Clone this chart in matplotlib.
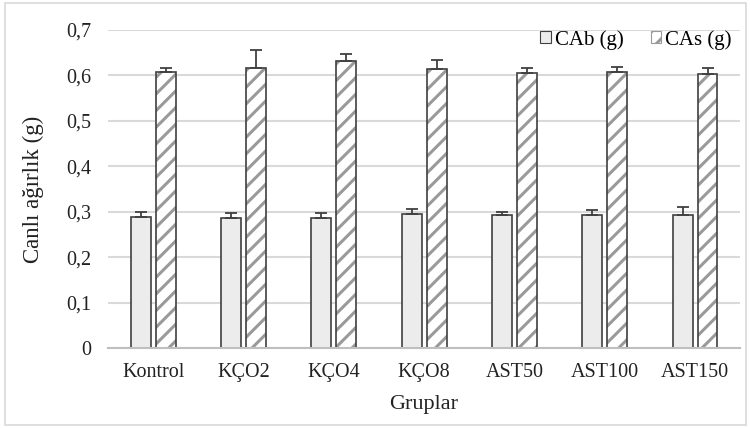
import matplotlib
matplotlib.use("Agg")
import matplotlib.pyplot as plt
import numpy as np
from matplotlib.patches import Patch, Rectangle

groups = ["Kontrol", "KÇO2", "KÇO4", "KÇO8", "AST50", "AST100", "AST150"]
cab = [0.289, 0.287, 0.287, 0.294, 0.292, 0.292, 0.293]
cab_err = [0.010, 0.011, 0.010, 0.012, 0.007, 0.012, 0.018]
cas = [0.608, 0.617, 0.631, 0.613, 0.606, 0.608, 0.604]
cas_err = [0.008, 0.039, 0.017, 0.020, 0.011, 0.011, 0.012]
yticks = [0, 0.1, 0.2, 0.3, 0.4, 0.5, 0.6, 0.7]
ytick_labels = ["0", "0,1", "0,2", "0,3", "0,4", "0,5", "0,6", "0,7"]

plt.rcParams["font.family"] = ["Liberation Serif", "DejaVu Serif"]
plt.rcParams["hatch.linewidth"] = 2.2
plt.rcParams["hatch.color"] = "#9a9a9a"

fig = plt.figure(figsize=(7.5, 4.28), dpi=100)
ax = fig.add_axes([0.144, 0.187, 0.843, 0.743])
fig.patches.append(Rectangle((0.006, 0.008), 0.988, 0.984, transform=fig.transFigure,
                             fill=False, edgecolor="#d9d9d9", linewidth=1.2))

x = np.arange(len(groups))
width = 0.22
offset = 0.138
edge = "#404040"
err_kw = dict(ecolor="#404040", elinewidth=1.3, capsize=4, capthick=1.3)

ax.bar(x - offset, cab, width, color="#ececec", edgecolor=edge, linewidth=1.2, zorder=3,
       yerr=[np.zeros(len(cab)), cab_err], error_kw=err_kw)
ax.bar(x + offset, cas, width, color="white", edgecolor="#9a9a9a", linewidth=0, hatch="//", zorder=3)
ax.bar(x + offset, cas, width, fill=False, edgecolor=edge, linewidth=1.2, zorder=4,
       yerr=[np.zeros(len(cas)), cas_err], error_kw=err_kw)

ax.set_xlim(-0.5, len(groups) - 0.5)
ax.set_ylim(0, 0.7)
ax.set_yticks(yticks)
ax.set_yticklabels(ytick_labels)
ax.set_xticks(x)
ax.set_xticklabels(groups)
ax.tick_params(axis="both", length=0, labelsize=14.5, colors="#222222")
ax.tick_params(axis="x", pad=11)
ax.tick_params(axis="y", pad=12)
ax.grid(axis="y", color="#d9d9d9", linewidth=1.5, zorder=0)
for side in ("top", "right", "left"):
    ax.spines[side].set_visible(False)
ax.spines["bottom"].set_color("#bfbfbf")
ax.spines["bottom"].set_linewidth(1.5)
ax.spines["bottom"].set_zorder(5)

ax.set_xlabel("Gruplar", fontsize=16, color="#222222", labelpad=9)
ax.set_ylabel("Canlı ağırlık (g)", fontsize=16.5, color="#222222", labelpad=16)

handles = [Patch(facecolor="#ececec", edgecolor=edge, linewidth=0.8, label="CAb (g)"),
           Patch(facecolor="white", edgecolor="#9a9a9a", hatch="//", linewidth=0.8, label="CAs (g)")]
ax.legend(handles=handles, loc="center right", bbox_to_anchor=(1.0, 0.969), ncol=2, frameon=False,
          fontsize=15, handlelength=0.5, handleheight=0.5, handletextpad=0.2, columnspacing=1.3,
          borderaxespad=0)

fig.savefig("out.png", dpi=100)
